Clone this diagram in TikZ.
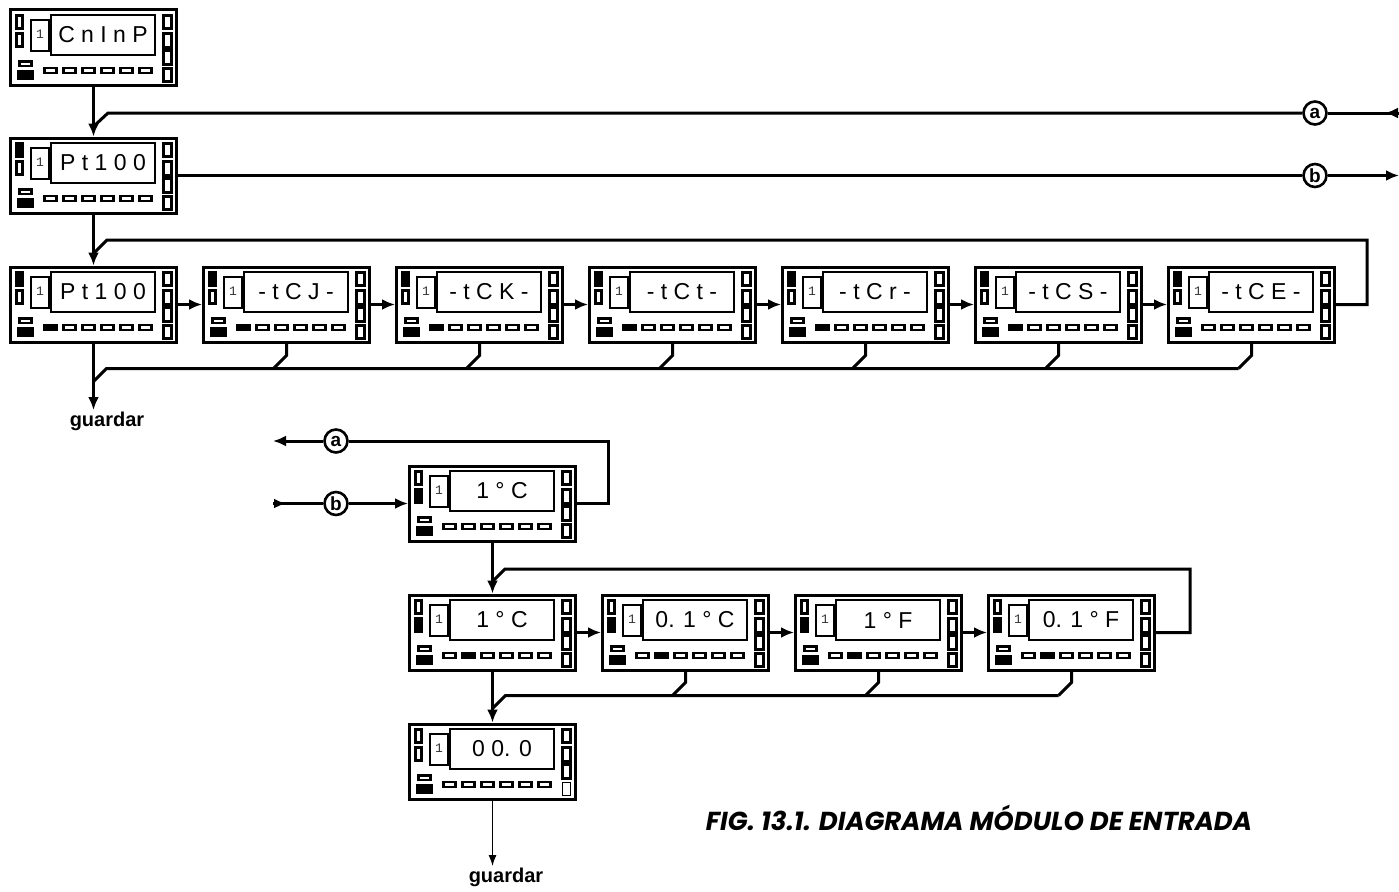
\documentclass[tikz,border=0pt]{standalone}
\usepackage{fontspec}
\setmainfont{Liberation Sans}
\newfontfamily\monof{Liberation Mono}
\newfontfamily\capf{Poppins}
\usetikzlibrary{arrows.meta,calc}
\tikzset{
 conn/.style={line width=3pt},
 arr/.style={-{Latex[length=13pt,width=11pt]}},
 devbox/.style={draw,line width=3pt,minimum width=166pt,minimum height=75pt,inner sep=0pt},
 ind/.style={draw,line width=2.3pt},
 disp/.style={draw,line width=2.7pt},
 circ/.style={circle,draw,fill=white,line width=2.6pt,minimum size=23pt,inner sep=0pt,font=\fontsize{19}{19}\selectfont\bfseries},
 guard/.style={font=\fontsize{20}{20}\selectfont\bfseries,inner sep=2pt,anchor=north},
 dtext/.style={font=\fontsize{23}{23}\selectfont},
 onetext/.style={font=\monof\fontsize{13}{13}\selectfont,text=black!80},
}
% #1 name, #2 left, #3 top, #4 text, #5 left fill (1 top,2 second), #6 bottom filled index, #7 thin last right
\newcommand\dev[7]{%
 \node[devbox] (#1) at (#2+84.5,#3+38.5) {};
 \begin{scope}[shift={(#2,#3)}]
  \ifnum#5=1 \def\fa{black}\else\def\fa{white}\fi
  \ifnum#5=2 \def\fb{black}\else\def\fb{white}\fi
  \path[ind,fill=\fa] (7.5,6.5) rectangle (13.5,19.5);
  \path[ind,fill=\fb] (7.5,24.5) rectangle (13.5,37.5);
  \path[ind] (22,11) rectangle (40,42);
  \node[onetext] at (31,25) {1};
  \path[disp] (42,6) rectangle (146,46);
  \node[dtext] at (94,26) {#4};
  \path[ind] (154.5,6.5) rectangle (162.5,19.5);
  \path[ind] (154.5,24.5) rectangle (162.5,38.5);
  \path[ind] (154.5,41.5) rectangle (162.5,55.5);
  \ifnum#7=1 \def\rl{0.8pt}\else\def\rl{2.3pt}\fi
  \draw[line width=\rl] (154.5,59.5) rectangle (162.5,72.5);
  \path[ind] (10.5,52.5) rectangle (22.5,57);
  \path[ind,fill=black] (9.5,62) rectangle (23.5,70);
  \foreach \i in {1,...,6}{%
    \ifnum\i=#6\relax\def\fc{black}\else\def\fc{white}\fi
    \path[ind,fill=\fc] ({16.5+19*\i},59) rectangle ({28.5+19*\i},64);
  }
 \end{scope}}
\begin{document}
\begin{tikzpicture}[x=1pt,y=-1pt]
\useasboundingbox[fill=white] (0,0) rectangle (1399,891);
% devices
\dev{cninp}{9}{9}{C n I n P}{0}{0}{0}
\dev{pta}{9}{137}{P t 1 0 0}{1}{0}{0}
\dev{ptb}{9}{266}{P t 1 0 0}{1}{1}{0}
\dev{tcj}{202}{266}{- t C J -}{1}{1}{0}
\dev{tck}{395}{266}{- t C K -}{1}{1}{0}
\dev{tct}{588}{266}{- t C t -}{1}{1}{0}
\dev{tcr}{781}{266}{- t C r -}{1}{1}{0}
\dev{tcs}{974}{266}{- t C S -}{1}{1}{0}
\dev{tce}{1167}{266}{- t C E -}{1}{0}{0}
\dev{ua}{408}{465}{1 ° C}{2}{0}{0}
\dev{ub}{408}{594}{1 ° C}{2}{2}{0}
\dev{uc}{601}{594}{0. 1 ° C}{2}{2}{0}
\dev{ud}{794}{594}{1 ° F}{2}{2}{0}
\dev{ue}{987}{594}{0. 1 ° F}{2}{2}{0}
\dev{res}{408}{723}{0 0. 0}{0}{0}{1}
% circles and labels
\node[circ] (ca) at (1315,113) {a};
\node[circ] (cb) at (1315,175.5) {b};
\node[circ] (ca2) at (336,441) {a};
\node[circ] (cb2) at (336,503.5) {b};
\coordinate (aR) at (1399,113);
\coordinate (bR) at (1399,175.5);
\coordinate (aL) at (273,441);
\coordinate (bL) at (273,503.5);
\node[guard] (g1) at (107,410) {guardar};
\node[guard] (g2) at (506,866) {guardar};
\node (cap) at (979,818) {\resizebox{546pt}{!}{\capf\bfseries\itshape FIG. 13.1. DIAGRAMA MÓDULO DE ENTRADA}};
% top part
\draw[conn,arr] (cninp.south) -- (pta.north);
\draw[conn] (aR) -- (ca);
\draw[conn,-{Latex[length=13pt,width=11pt]}] (aR) -- ++(-14,0);
\draw[conn] (ca) -- (108,113) -- ($(pta.north)+(0,-10)$);
\draw[conn] (pta.east) -- (cb);
\draw[conn,arr] (cb) -- (bR);
\draw[conn,arr] (pta.south) -- (ptb.north);
\draw[conn] (tce.east) -- ++(31,0) |- (107,240) -- ($(ptb.north)+(0,-12)$);
\draw[conn,arr] (ptb.east) -- (tcj.west);
\draw[conn,arr] (tcj.east) -- (tck.west);
\draw[conn,arr] (tck.east) -- (tct.west);
\draw[conn,arr] (tct.east) -- (tcr.west);
\draw[conn,arr] (tcr.east) -- (tcs.west);
\draw[conn,arr] (tcs.east) -- (tce.west);
\foreach \n in {tcj,tck,tct,tcr,tcs,tce}{\draw[conn] (\n.south) -- ++(0,12) -- ++(-13,13);}
\draw[conn] ($(tce.south)+(-13,25)$) -- ($(ptb.south)+(13,25)$) -- ($(ptb.south)+(0,38)$);
\draw[conn,arr] (ptb.south) -- (ptb.south |- g1.north);
% lower part
\draw[conn] (ua.east) -- ++(31,0) |- (ca2);
\draw[conn,arr] (ca2) -- (aL);
\draw[conn] (bL) -- (cb2);
\draw[conn,-{Latex[length=12pt,width=10pt]}] (bL) -- ++(13,0);
\draw[conn,arr] (cb2) -- (ua.west);
\draw[conn,arr] (ua.south) -- (ub.north);
\draw[conn] (ue.east) -- ++(34,0) |- (505,569) -- ($(ub.north)+(0,-12)$);
\draw[conn,arr] (ub.east) -- (uc.west);
\draw[conn,arr] (uc.east) -- (ud.west);
\draw[conn,arr] (ud.east) -- (ue.west);
\foreach \n in {uc,ud,ue}{\draw[conn] (\n.south) -- ++(0,11) -- ++(-13,13);}
\draw[conn] ($(ue.south)+(-13,24)$) -- ($(ub.south)+(13,24)$) -- ($(ub.south)+(0,37)$);
\draw[conn,arr] (ub.south) -- (res.north);
\draw[line width=1.2pt,-{Latex[length=11pt,width=8pt]}] (res.south) -- (res.south |- g2.north);
\end{tikzpicture}
\end{document}
